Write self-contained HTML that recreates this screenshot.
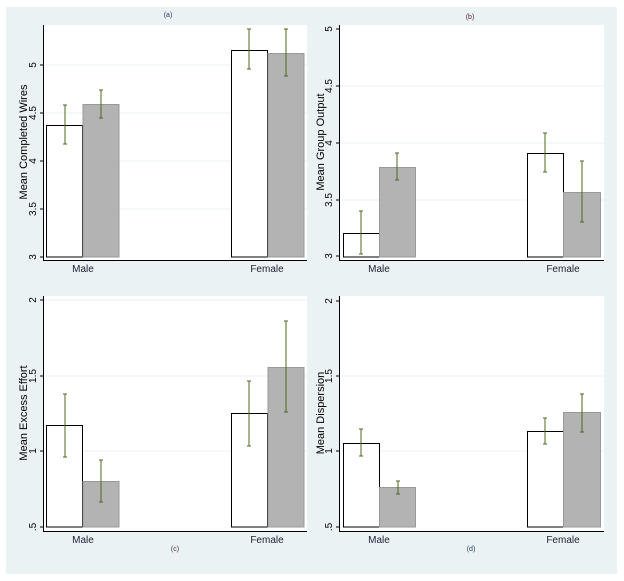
<!DOCTYPE html>
<html><head><meta charset="utf-8"><style>
html,body{margin:0;padding:0;background:#fff;}
svg{display:block;font-family:"Liberation Sans",sans-serif;}
</style></head><body>
<svg width="624" height="581" viewBox="0 0 624 581" xmlns="http://www.w3.org/2000/svg">
<rect x="6" y="7" width="611" height="567" fill="#eaf2f3"/>
<!-- Panel a -->
<g>
<rect x="43" y="25" width="264" height="235" fill="#fff"/>
<g stroke="#eaf2f3" stroke-width="1"><line x1="43" x2="307" y1="65" y2="65"/><line x1="43" x2="307" y1="113" y2="113"/><line x1="43" x2="307" y1="161" y2="161"/><line x1="43" x2="307" y1="209" y2="209"/></g>
<rect x="46.5" y="125.5" width="36" height="131.5" fill="#fff" stroke="#000"/>
<rect x="83" y="104.5" width="36" height="152.5" fill="#b3b3b3" stroke="#999"/>
<rect x="231.5" y="50.5" width="36" height="206.5" fill="#fff" stroke="#000"/>
<rect x="268" y="53.5" width="36" height="203.5" fill="#b3b3b3" stroke="#999"/>
<g stroke="#4a6a1c" fill="none"><path d="M63,105h4M65,105v39M63,144h4"/><path d="M99,90h4M101,90v28M99,118h4"/><path d="M247,29h4M249,29v40M247,69h4"/><path d="M284,29h4M286,29v47M284,76h4"/></g>
<path d="M43.5,25V260.5H307" stroke="#000" fill="none"/>
<g stroke="#000"><line x1="40" x2="43" y1="65" y2="65"/><line x1="40" x2="43" y1="113" y2="113"/><line x1="40" x2="43" y1="161" y2="161"/><line x1="40" x2="43" y1="209" y2="209"/><line x1="40" x2="43" y1="257" y2="257"/></g>
<g font-size="10" text-anchor="middle"><text transform="translate(36,65) rotate(-90)">5</text><text transform="translate(36,113) rotate(-90)">4.5</text><text transform="translate(36,161) rotate(-90)">4</text><text transform="translate(36,209) rotate(-90)">3.5</text><text transform="translate(36,257) rotate(-90)">3</text>
<text transform="translate(27,142) rotate(-90)" font-size="11">Mean Completed Wires</text>
<text x="83" y="272" font-size="10" fill="#223">Male</text><text x="267" y="272" font-size="10" fill="#223">Female</text>
<text x="168" y="17" font-size="7" fill="#2a3a6a">(a)</text></g>
</g>
<!-- Panel b -->
<g>
<rect x="339" y="25" width="265" height="235" fill="#fff"/>
<g stroke="#eaf2f3"><line x1="339" x2="604" y1="86" y2="86"/><line x1="339" x2="604" y1="143" y2="143"/><line x1="339" x2="604" y1="200" y2="200"/></g>
<rect x="343.5" y="233.5" width="36" height="23.5" fill="#fff" stroke="#000"/>
<rect x="379.5" y="167.5" width="36" height="89.5" fill="#b3b3b3" stroke="#999"/>
<rect x="527.5" y="153.5" width="36" height="103.5" fill="#fff" stroke="#000"/>
<rect x="563.5" y="192.5" width="37" height="64.5" fill="#b3b3b3" stroke="#999"/>
<g stroke="#4a6a1c" fill="none"><path d="M359,211h4M361,211v43M359,254h4"/><path d="M395,153h4M397,153v27M395,180h4"/><path d="M543,133h4M545,133v39M543,172h4"/><path d="M580,161h4M582,161v61M580,222h4"/></g>
<path d="M339.5,25V260.5H604" stroke="#000" fill="none"/>
<g stroke="#000"><line x1="336" x2="339" y1="29" y2="29"/><line x1="336" x2="339" y1="86" y2="86"/><line x1="336" x2="339" y1="143" y2="143"/><line x1="336" x2="339" y1="200" y2="200"/><line x1="336" x2="339" y1="256" y2="256"/></g>
<g font-size="10" text-anchor="middle"><text transform="translate(332,29) rotate(-90)">5</text><text transform="translate(332,86) rotate(-90)">4.5</text><text transform="translate(332,143) rotate(-90)">4</text><text transform="translate(332,200) rotate(-90)">3.5</text><text transform="translate(332,256) rotate(-90)">3</text>
<text transform="translate(324,142) rotate(-90)" font-size="11">Mean Group Output</text>
<text x="379" y="272" font-size="10" fill="#223">Male</text><text x="563" y="272" font-size="10" fill="#223">Female</text>
<text x="470" y="19" font-size="7" fill="#5a2a2a">(b)</text></g>
</g>
<!-- Panel c -->
<g>
<rect x="43" y="296" width="264" height="235" fill="#fff"/>
<g stroke="#eaf2f3"><line x1="43" x2="307" y1="300" y2="300"/><line x1="43" x2="307" y1="376" y2="376"/><line x1="43" x2="307" y1="451" y2="451"/></g>
<rect x="46.5" y="425.5" width="36" height="101.5" fill="#fff" stroke="#000"/>
<rect x="83" y="481.5" width="36" height="45.5" fill="#b3b3b3" stroke="#999"/>
<rect x="231.5" y="413.5" width="36" height="113.5" fill="#fff" stroke="#000"/>
<rect x="268" y="367.5" width="36" height="159.5" fill="#b3b3b3" stroke="#999"/>
<g stroke="#4a6a1c" fill="none"><path d="M63,394h4M65,394v63M63,457h4"/><path d="M99,460h4M101,460v42M99,502h4"/><path d="M247,381h4M249,381v65M247,446h4"/><path d="M284,321h4M286,321v91M284,412h4"/></g>
<path d="M43.5,296V531.5H307" stroke="#000" fill="none"/>
<g stroke="#000"><line x1="40" x2="43" y1="300" y2="300"/><line x1="40" x2="43" y1="376" y2="376"/><line x1="40" x2="43" y1="451" y2="451"/><line x1="40" x2="43" y1="527" y2="527"/></g>
<g font-size="10" text-anchor="middle"><text transform="translate(36,300) rotate(-90)">2</text><text transform="translate(36,376) rotate(-90)">1.5</text><text transform="translate(36,451) rotate(-90)">1</text><text transform="translate(36,527) rotate(-90)">.5</text>
<text transform="translate(27,413) rotate(-90)" font-size="11">Mean Excess Effort</text>
<text x="83" y="543" font-size="10" fill="#223">Male</text><text x="267" y="543" font-size="10" fill="#223">Female</text>
<text x="175" y="551" font-size="7" fill="#5a2a2a">(c)</text></g>
</g>
<!-- Panel d -->
<g>
<rect x="339" y="296" width="265" height="235" fill="#fff"/>
<g stroke="#eaf2f3"><line x1="339" x2="604" y1="376" y2="376"/><line x1="339" x2="604" y1="451" y2="451"/></g>
<rect x="343.5" y="443.5" width="36" height="83.5" fill="#fff" stroke="#000"/>
<rect x="379.5" y="487.5" width="36" height="39.5" fill="#b3b3b3" stroke="#999"/>
<rect x="527.5" y="431.5" width="36" height="95.5" fill="#fff" stroke="#000"/>
<rect x="563.5" y="412.5" width="37" height="114.5" fill="#b3b3b3" stroke="#999"/>
<g stroke="#4a6a1c" fill="none"><path d="M359,429h4M361,429v27M359,456h4"/><path d="M396,481h4M398,481v13M396,494h4"/><path d="M543,418h4M545,418v26M543,444h4"/><path d="M580,394h4M582,394v38M580,432h4"/></g>
<path d="M339.5,296V531.5H604" stroke="#000" fill="none"/>
<g stroke="#000"><line x1="336" x2="339" y1="301" y2="301"/><line x1="336" x2="339" y1="376" y2="376"/><line x1="336" x2="339" y1="451" y2="451"/><line x1="336" x2="339" y1="527" y2="527"/></g>
<g font-size="10" text-anchor="middle"><text transform="translate(332,301) rotate(-90)">2</text><text transform="translate(332,376) rotate(-90)">1.5</text><text transform="translate(332,451) rotate(-90)">1</text><text transform="translate(332,527) rotate(-90)">.5</text>
<text transform="translate(324,413) rotate(-90)" font-size="11">Mean Dispersion</text>
<text x="379" y="543" font-size="10" fill="#223">Male</text><text x="563" y="543" font-size="10" fill="#223">Female</text>
<text x="471" y="551" font-size="7" fill="#2a3a6a">(d)</text></g>
</g>
</svg>
</body></html>
